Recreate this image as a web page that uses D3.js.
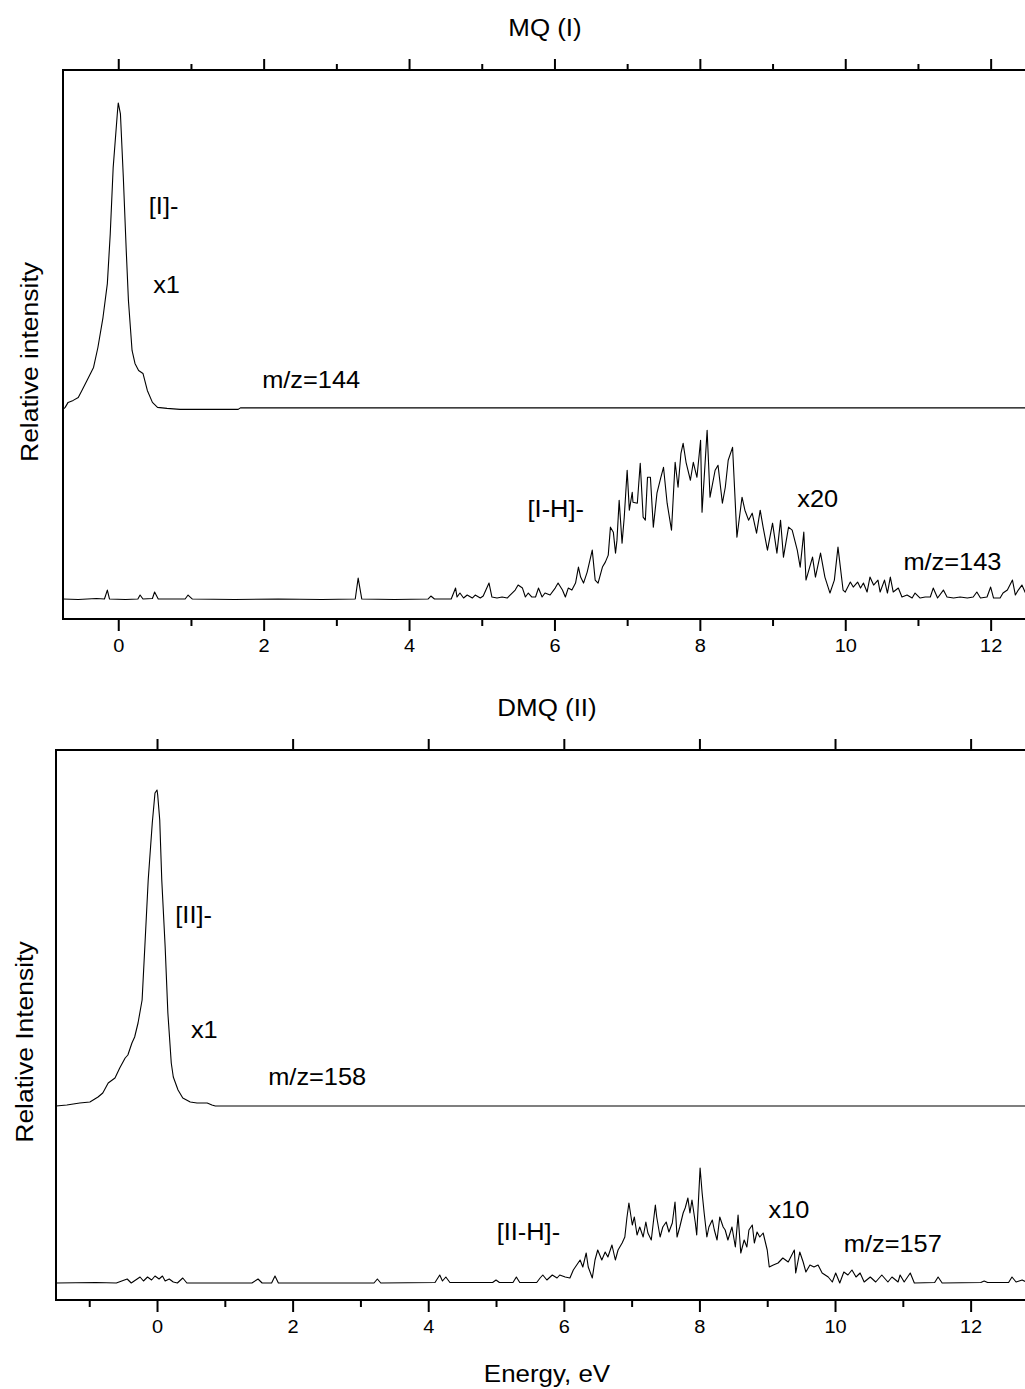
<!DOCTYPE html>
<html>
<head>
<meta charset="utf-8">
<script src="https://cdn.jsdelivr.net/npm/d3@7"></script>
<style>
  html, body { margin: 0; padding: 0; background: #fff; }
  svg { display: block; }
  text { font-family: "Liberation Sans", Arial, sans-serif; fill: #000; }
</style>
</head>
<body>
<svg id="chart" width="1025" height="1389"></svg>
<script>
// ---------------- DATA ----------------
const majorTicks = [0, 2, 4, 6, 8, 10, 12];
const minorTicksTop = [1, 3, 5, 7, 9, 11, 13];
const minorTicksBottom = [-1, 1, 3, 5, 7, 9, 11, 13];

// Panel I (MQ) – parent anion m/z=144, x1 (energy eV, displayed intensity)
const mq144 = [[-0.76,42.0],[-0.73,42.4],[-0.69,43.4],[-0.62,43.8],[-0.55,44.4],[-0.50,45.8],[-0.43,47.8],[-0.34,50.4],[-0.28,54.4],[-0.21,60.4],[-0.15,67.2],[-0.11,77.2],[-0.07,90.4],[-0.01,101.8],[0.00,103.4],[0.03,101.2],[0.07,88.4],[0.11,73.8],[0.14,63.8],[0.19,53.8],[0.23,51.2],[0.28,49.8],[0.34,49.2],[0.40,45.8],[0.47,43.4],[0.54,42.4],[0.67,42.2],[0.85,42.0],[1.13,42.0],[1.65,42.0],[1.68,42.3],[12.7,42.3]];

// Panel I (MQ) – dehydrogenated anion m/z=143, x20
const mq143 = [[-0.76,4.0],[-0.55,3.9],[-0.3,4.1],[-0.19,4.0],[-0.15,5.8],[-0.12,4.0],[0.1,3.9],[0.27,4.0],[0.3,4.8],[0.34,4.0],[0.47,4.1],[0.5,5.4],[0.55,4.0],[0.92,4.0],[0.96,4.8],[1.02,4.0],[1.6,3.9],[2.2,4.0],[2.8,3.9],[3.26,4.0],[3.3,8.2],[3.35,4.0],[3.8,3.9],[4.26,4.0],[4.3,4.6],[4.35,4.0],[4.58,4.0],[4.64,6.2],[4.66,4.4],[4.70,5.2],[4.75,4.2],[4.80,4.8],[4.87,4.2],[4.91,4.8],[4.98,4.2],[5.02,4.6],[5.10,7.2],[5.14,4.4],[5.21,4.2],[5.28,4.4],[5.35,4.2],[5.39,4.8],[5.46,5.8],[5.50,6.8],[5.56,6.2],[5.60,4.4],[5.64,5.2],[5.69,4.4],[5.74,4.4],[5.78,6.2],[5.83,4.4],[5.87,5.2],[5.94,4.8],[6.01,6.2],[6.05,7.2],[6.11,5.8],[6.15,4.4],[6.19,6.2],[6.24,5.8],[6.29,7.2],[6.33,10.4],[6.36,8.4],[6.40,7.2],[6.45,9.4],[6.52,13.8],[6.56,7.8],[6.60,7.2],[6.66,10.4],[6.70,11.4],[6.74,12.8],[6.77,18.4],[6.81,17.4],[6.84,13.2],[6.86,15.8],[6.89,23.8],[6.93,15.2],[6.96,20.4],[7.00,29.8],[7.03,21.8],[7.07,25.4],[7.08,23.4],[7.14,23.2],[7.18,31.2],[7.22,20.4],[7.25,19.8],[7.28,28.4],[7.32,28.4],[7.36,18.4],[7.41,25.2],[7.46,28.2],[7.50,30.4],[7.55,23.2],[7.61,17.8],[7.66,31.4],[7.70,26.4],[7.74,33.2],[7.77,35.2],[7.81,31.4],[7.87,27.8],[7.91,31.4],[7.96,28.4],[8.01,35.8],[8.03,21.4],[8.10,37.8],[8.14,24.4],[8.21,29.8],[8.25,30.8],[8.31,23.2],[8.35,26.4],[8.39,31.8],[8.45,34.4],[8.51,16.4],[8.58,24.4],[8.62,21.8],[8.67,19.8],[8.72,21.2],[8.78,17.2],[8.83,21.8],[8.87,18.4],[8.93,13.8],[9.00,19.2],[9.06,13.2],[9.11,19.8],[9.15,12.4],[9.22,18.4],[9.27,17.8],[9.34,13.8],[9.38,10.4],[9.43,17.4],[9.46,7.8],[9.55,12.4],[9.59,8.4],[9.66,13.2],[9.72,8.4],[9.79,5.2],[9.85,7.8],[9.90,14.4],[9.97,5.8],[10.00,5.4],[10.07,7.4],[10.11,6.4],[10.17,7.4],[10.21,6.2],[10.25,7.2],[10.30,5.4],[10.34,8.4],[10.39,6.8],[10.45,7.8],[10.48,5.4],[10.54,7.8],[10.58,5.2],[10.62,8.4],[10.66,5.4],[10.73,6.2],[10.78,4.4],[10.85,4.8],[10.92,4.2],[10.96,5.2],[11.03,4.2],[11.10,4.4],[11.17,4.4],[11.21,6.2],[11.27,4.2],[11.35,5.8],[11.40,4.4],[11.49,4.2],[11.58,4.4],[11.68,4.2],[11.76,4.4],[11.81,5.4],[11.86,4.2],[11.95,4.4],[12.00,6.4],[12.04,4.2],[12.13,4.2],[12.17,5.2],[12.23,5.8],[12.30,7.8],[12.34,4.8],[12.38,5.8],[12.43,6.8],[12.48,5.2]];

// Panel II (DMQ) – parent anion m/z=158, x1
const dmq158 = [[-1.49,38.8],[-1.33,39.0],[-1.14,39.4],[-0.99,39.6],[-0.87,40.6],[-0.80,41.4],[-0.72,43.4],[-0.62,44.4],[-0.55,46.4],[-0.47,48.4],[-0.43,49.0],[-0.37,51.4],[-0.33,52.6],[-0.28,55.4],[-0.22,60.0],[-0.18,70.6],[-0.13,84.0],[-0.07,95.4],[-0.03,101.4],[0.00,102.0],[0.01,101.0],[0.04,96.0],[0.07,84.0],[0.12,70.6],[0.16,57.4],[0.21,47.4],[0.24,44.6],[0.31,42.0],[0.38,40.4],[0.49,39.6],[0.59,39.4],[0.66,39.4],[0.74,39.4],[0.81,39.0],[0.86,38.8],[13.0,38.8]];

// Panel II (DMQ) – dehydrogenated anion m/z=157, x10
const dmq157 = [[-1.49,3.4],[-0.9,3.5],[-0.6,3.4],[-0.44,4.2],[-0.38,3.4],[-0.25,4.6],[-0.2,3.8],[-0.14,4.6],[-0.08,4.0],[-0.03,4.8],[0.03,4.2],[0.08,4.8],[0.12,3.8],[0.18,4.2],[0.24,3.6],[0.3,3.4],[0.38,4.4],[0.44,3.4],[1.4,3.4],[1.49,4.2],[1.55,3.4],[1.69,3.4],[1.74,4.8],[1.79,3.4],[3.2,3.4],[3.25,4.2],[3.3,3.4],[4.1,3.5],[4.17,5.0],[4.21,3.8],[4.26,4.6],[4.32,3.5],[4.95,3.5],[5.00,4.0],[5.05,3.5],[5.25,3.5],[5.30,4.6],[5.35,3.5],[5.60,3.5],[5.65,4.4],[5.69,5.0],[5.75,4.0],[5.83,5.0],[5.90,4.4],[5.94,5.0],[6.02,4.6],[6.09,4.4],[6.14,6.0],[6.19,7.0],[6.24,8.0],[6.28,6.6],[6.33,9.4],[6.36,6.6],[6.42,4.4],[6.46,8.0],[6.50,10.0],[6.56,8.0],[6.61,9.6],[6.65,8.6],[6.71,11.0],[6.76,8.0],[6.80,10.0],[6.86,11.4],[6.90,12.6],[6.93,16.4],[6.96,19.4],[7.01,15.0],[7.04,16.6],[7.08,13.0],[7.12,14.6],[7.17,12.6],[7.21,15.6],[7.24,13.4],[7.29,12.0],[7.35,19.0],[7.37,16.6],[7.42,12.6],[7.46,14.6],[7.51,15.6],[7.55,13.6],[7.60,15.4],[7.64,19.6],[7.67,12.6],[7.71,14.6],[7.76,17.4],[7.79,18.4],[7.83,20.4],[7.86,17.4],[7.89,20.0],[7.94,15.4],[7.96,13.0],[8.01,26.4],[8.04,21.4],[8.07,17.4],[8.11,12.6],[8.14,14.6],[8.19,16.0],[8.22,14.0],[8.26,12.0],[8.30,16.6],[8.35,14.6],[8.38,14.0],[8.42,12.0],[8.48,14.6],[8.53,10.6],[8.57,17.0],[8.61,9.4],[8.66,12.0],[8.70,10.6],[8.73,14.0],[8.78,15.0],[8.81,11.4],[8.85,13.6],[8.89,12.6],[8.94,13.4],[9.00,10.0],[9.03,6.6],[9.09,7.0],[9.16,7.4],[9.23,8.4],[9.31,7.6],[9.40,10.0],[9.42,5.4],[9.48,9.6],[9.53,7.6],[9.57,5.6],[9.63,7.0],[9.69,6.6],[9.75,7.0],[9.81,5.4],[9.90,4.6],[9.96,3.6],[10.01,5.4],[10.07,3.4],[10.13,5.6],[10.19,5.0],[10.25,6.0],[10.31,4.6],[10.37,5.4],[10.43,3.6],[10.52,4.6],[10.60,3.6],[10.69,5.0],[10.78,3.6],[10.84,4.6],[10.93,3.6],[10.96,5.0],[11.02,3.6],[11.11,5.4],[11.17,3.4],[11.47,3.5],[11.52,4.6],[11.58,3.4],[12.15,3.5],[12.20,3.8],[12.25,3.5],[12.56,3.5],[12.61,4.6],[12.67,3.6],[12.76,4.0],[12.82,3.6],[13.0,3.5]];

// ---------------- LAYOUT ----------------
const SX = 1.08; // horizontal glyph stretch seen in the reference
const svg = d3.select('#chart');

function label(x, y, str, size, anchor = 'start', rot = 0) {
  svg.append('text')
    .attr('transform', `translate(${x},${y}) rotate(${rot}) scale(${SX},1)`)
    .attr('font-size', size)
    .attr('text-anchor', anchor)
    .text(str);
}

const panels = [
  {
    left: 63, top: 70, bottom: 619, pxPerUnit: 72.7, xmin: -0.76, xmax: 12.72,
    title: 'MQ (I)', titleX: 545, titleY: 36,
    ylabel: 'Relative intensity', ylabelX: 38, ylabelY: 362,
    series: [mq144, mq143], topMinor: true,
    notes: [
      { t: '[I]-', e: 0.42, v: 81.2 },
      { t: 'x1', e: 0.48, v: 65.4 },
      { t: 'm/z=144', e: 1.98, v: 46.2 },
      { t: '[I-H]-', e: 5.63, v: 20.4 },
      { t: 'x20', e: 9.34, v: 22.4 },
      { t: 'm/z=143', e: 10.80, v: 9.8 }
    ]
  },
  {
    left: 56, top: 750, bottom: 1300, pxPerUnit: 67.8, xmin: -1.49, xmax: 13.0,
    title: 'DMQ (II)', titleX: 547, titleY: 716,
    ylabel: 'Relative Intensity', ylabelX: 33, ylabelY: 1042,
    series: [dmq158, dmq157], topMinor: false,
    notes: [
      { t: '[II]-', e: 0.27, v: 75.4 },
      { t: 'x1', e: 0.50, v: 52.4 },
      { t: 'm/z=158', e: 1.64, v: 43.0 },
      { t: '[II-H]-', e: 5.01, v: 12.0 },
      { t: 'x10', e: 9.02, v: 16.4 },
      { t: 'm/z=157', e: 10.13, v: 9.6 }
    ]
  }
];

panels.forEach(p => {
  const right = p.left + (p.xmax - p.xmin) * p.pxPerUnit;
  const x = d3.scaleLinear().domain([p.xmin, p.xmax]).range([p.left, right]);
  const y = d3.scaleLinear().domain([0, 110]).range([p.bottom, p.top]);

  const clipId = 'clip' + p.top;
  svg.append('clipPath').attr('id', clipId)
    .append('rect').attr('x', p.left).attr('y', p.top)
    .attr('width', right - p.left).attr('height', p.bottom - p.top);

  // traces
  const line = d3.line().x(d => x(d[0])).y(d => y(d[1]));
  p.series.forEach(s => {
    svg.append('path').datum(s)
      .attr('clip-path', `url(#${clipId})`)
      .attr('d', line)
      .attr('fill', 'none')
      .attr('stroke', '#000')
      .attr('stroke-width', 1.1)
      .attr('stroke-linejoin', 'round');
  });

  // frame
  svg.append('rect')
    .attr('x', p.left).attr('y', p.top)
    .attr('width', right - p.left).attr('height', p.bottom - p.top)
    .attr('fill', 'none').attr('stroke', '#000').attr('stroke-width', 2);

  // bottom axis: major with labels, minor without
  const bMajor = svg.append('g').attr('transform', `translate(0,${p.bottom})`)
    .call(d3.axisBottom(x).tickValues(majorTicks).tickSize(12).tickPadding(8).tickFormat(d3.format('d')));
  const bMinor = svg.append('g').attr('transform', `translate(0,${p.bottom})`)
    .call(d3.axisBottom(x).tickValues(minorTicksBottom.filter(v => v > p.xmin && v < p.xmax)).tickSize(7).tickFormat(''));

  // top axis
  const tMajor = svg.append('g').attr('transform', `translate(0,${p.top})`)
    .call(d3.axisTop(x).tickValues(majorTicks).tickSize(11).tickFormat(''));
  const axes = [bMajor, bMinor, tMajor];
  if (p.topMinor) {
    axes.push(svg.append('g').attr('transform', `translate(0,${p.top})`)
      .call(d3.axisTop(x).tickValues(minorTicksTop.filter(v => v > p.xmin && v < p.xmax)).tickSize(6).tickFormat('')));
  }
  axes.forEach(a => {
    a.select('.domain').remove();
    a.selectAll('.tick line').attr('stroke', '#000').attr('stroke-width', 2);
  });
  bMajor.selectAll('.tick text')
    .attr('font-size', 18.5)
    .attr('font-family', '"Liberation Sans", Arial, sans-serif')
    .attr('fill', '#000')
    .attr('transform', `scale(${SX},1)`);

  // titles
  label(p.titleX, p.titleY, p.title, 24, 'middle');
  label(p.ylabelX, p.ylabelY, p.ylabel, 24.5, 'middle', -90);

  // annotations
  p.notes.forEach(n => label(x(n.e), y(n.v), n.t, 23.5));
});

label(547, 1382, 'Energy, eV', 24, 'middle');
</script>
</body>
</html>
